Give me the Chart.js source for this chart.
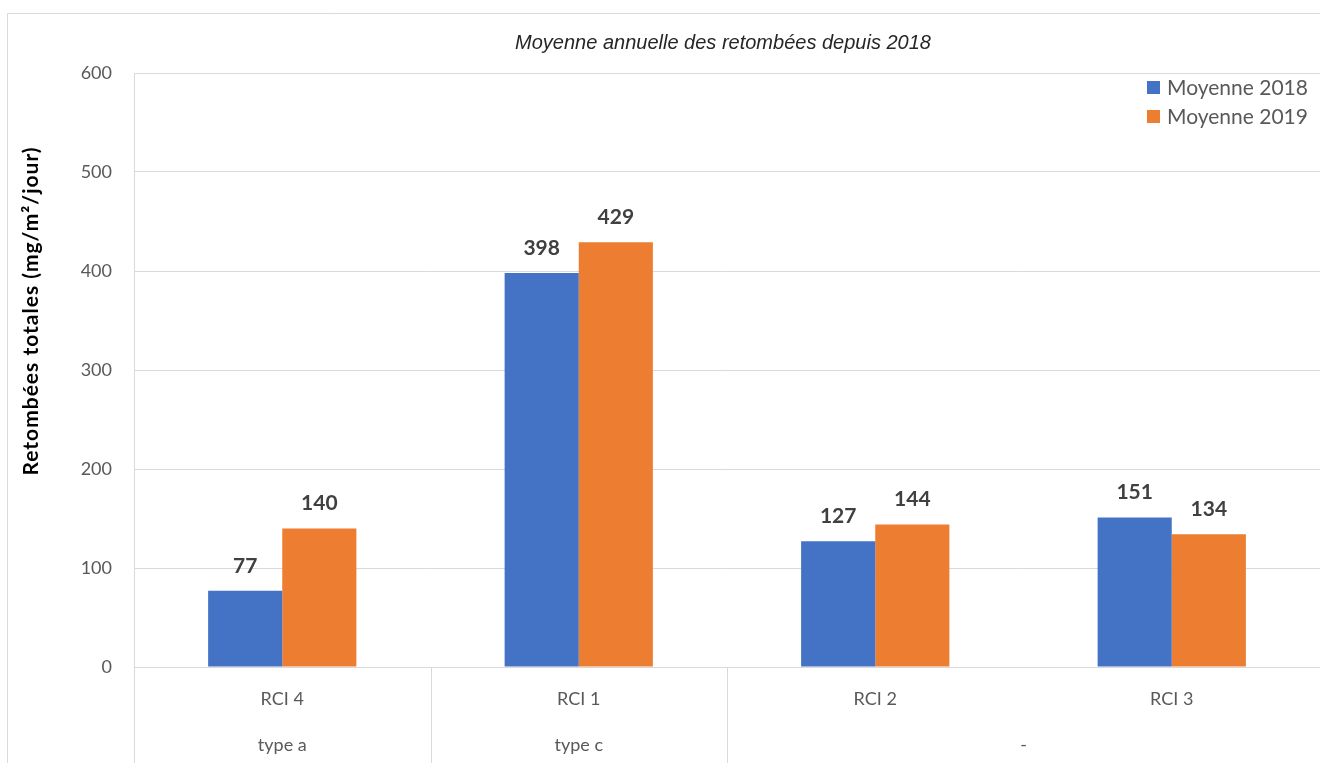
<!DOCTYPE html>
<html lang="fr">
<head>
  <meta charset="UTF-8">
  <title>Moyenne annuelle des retombées</title>
  <script src="https://cdn.jsdelivr.net/npm/chart.js"></script>
  <style>
    body { margin: 0; background: #fff; }
  </style>
</head>
<body>
<canvas id="chart" width="1320" height="763"></canvas>

<script>
  // data
  const sites = ['RCI 4', 'RCI 1', 'RCI 2', 'RCI 3'];
  const moyenne2018 = [77, 398, 127, 151];
  const moyenne2019 = [140, 429, 144, 134];
  const seriesNames = ['Moyenne 2018', 'Moyenne 2019'];
  const yTicks = [0, 100, 200, 300, 400, 500, 600];

  // second row of the category axis: label, first and last site index
  const groupLabels = ['type a', 'type c', '-'];
  const groupFirst = [0, 1, 2];
  const groupLast = [0, 1, 3];

  const chartTitle = 'Moyenne annuelle des retombées depuis 2018';
  const yTitle = 'Retombées totales (mg/m²/jour)';

  const gridColor = '#d9d9d9';
  const textGray = '#595959';
  const fontName = 'Lato, "Open Sans", sans-serif';

  const decorations = {
    id: 'decorations',
    beforeDraw(chart) {
      const ctx = chart.ctx;
      ctx.save();
      ctx.strokeStyle = gridColor;
      ctx.lineWidth = 1;
      ctx.beginPath();
      ctx.moveTo(7.5, chart.height);
      ctx.lineTo(7.5, 13.5);
      ctx.lineTo(chart.width, 13.5);
      ctx.stroke();
      ctx.restore();
    },
    afterDraw(chart) {
      const ctx = chart.ctx;
      const x = chart.scales.x;
      const area = chart.chartArea;
      ctx.save();

      // title (sits a bit right of centre, as in the source)
      ctx.fillStyle = '#262626';
      ctx.font = 'italic 20px "Liberation Sans", Arial, sans-serif';
      ctx.textAlign = 'center';
      ctx.textBaseline = 'middle';
      ctx.fillText(chartTitle, 723, 43);

      // separators and group labels under the categories
      ctx.strokeStyle = gridColor;
      ctx.lineWidth = 1;
      ctx.fillStyle = textGray;
      ctx.font = '18px ' + fontName;
      for (let g = 0; g < groupLabels.length; g++) {
        const left = x.getPixelForValue(groupFirst[g] - 0.5);
        const right = x.getPixelForValue(groupLast[g] + 0.5);
        const lx = Math.round(left) + 0.5;
        ctx.beginPath();
        ctx.moveTo(lx, area.bottom);
        ctx.lineTo(lx, chart.height);
        ctx.stroke();
        ctx.fillText(groupLabels[g], (left + right) / 2, 745);
      }

      // value labels above the bars
      ctx.fillStyle = '#404040';
      ctx.font = 'bold 21px ' + fontName;
      chart.data.datasets.forEach((ds, di) => {
        chart.getDatasetMeta(di).data.forEach((bar, i) => {
          ctx.fillText(ds.data[i], bar.x, bar.y - 25);
        });
      });

      // legend, top right inside the plot
      ctx.textAlign = 'left';
      ctx.font = '21px ' + fontName;
      chart.data.datasets.forEach((ds, di) => {
        const y = 87 + di * 29;
        ctx.fillStyle = ds.backgroundColor;
        ctx.fillRect(1147, y - 6, 13, 13);
        ctx.fillStyle = textGray;
        ctx.fillText(ds.label, 1167, y + 1);
      });

      // y axis title
      ctx.translate(31, 311);
      ctx.rotate(-Math.PI / 2);
      ctx.textAlign = 'center';
      ctx.fillStyle = '#000';
      ctx.font = 'bold 21px ' + fontName;
      ctx.letterSpacing = '1px';
      ctx.fillText(yTitle, 0, 0);
      ctx.restore();
    }
  };

  new Chart(document.getElementById('chart'), {
    type: 'bar',
    data: {
      labels: sites,
      datasets: [
        {
          label: seriesNames[0],
          data: moyenne2018,
          backgroundColor: '#4472c4',
          categoryPercentage: 0.5,
          barPercentage: 1
        },
        {
          label: seriesNames[1],
          data: moyenne2019,
          backgroundColor: '#ed7d31',
          categoryPercentage: 0.5,
          barPercentage: 1
        }
      ]
    },
    options: {
      responsive: false,
      animation: false,
      layout: { padding: { top: 73 } },
      plugins: {
        legend: { display: false },
        tooltip: { enabled: false },
        title: { display: false }
      },
      scales: {
        x: {
          grid: { display: false },
          border: { display: true, color: gridColor },
          ticks: { color: textGray, font: { family: fontName, size: 18 }, padding: 13 },
          afterFit(scale) { scale.height = 96; }
        },
        y: {
          min: yTicks[0],
          max: yTicks[yTicks.length - 1],
          afterBuildTicks(scale) { scale.ticks = yTicks.map(v => ({ value: v })); },
          grid: { color: gridColor, drawTicks: false },
          border: { display: true, color: gridColor },
          ticks: { color: textGray, font: { family: fontName, size: 18 }, padding: 22 },
          afterFit(scale) { scale.width = 134; }
        }
      }
    },
    plugins: [decorations]
  });
</script>
</body>
</html>
